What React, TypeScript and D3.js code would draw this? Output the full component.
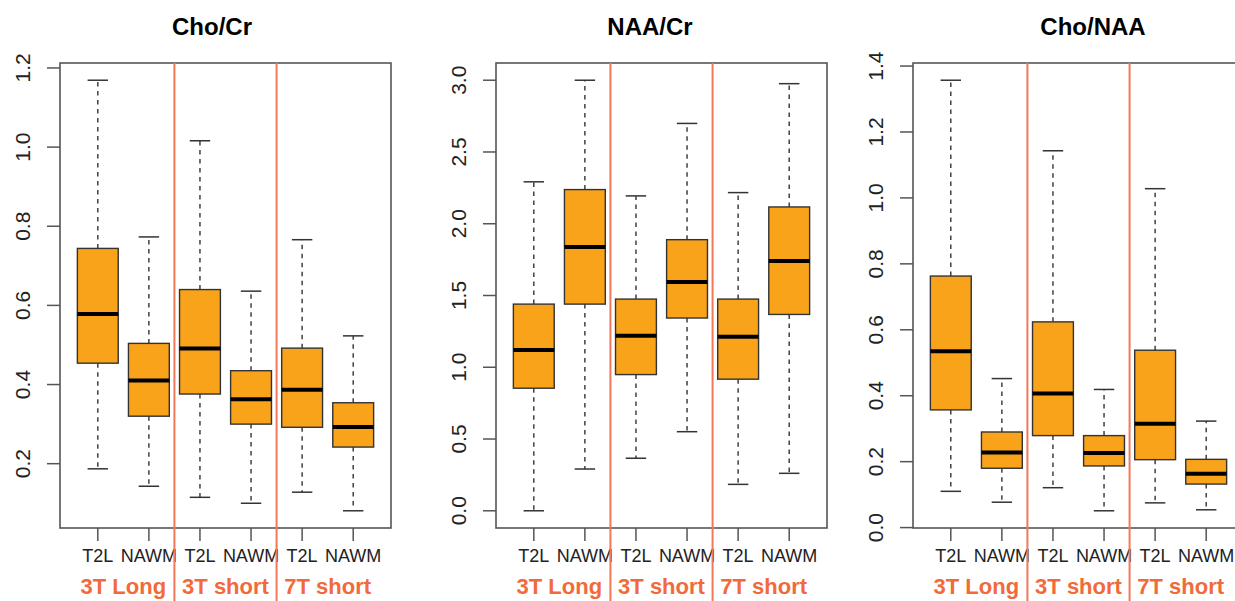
import React from "react";
import { scaleLinear, extent } from "d3";

// five-number summaries per box: [lower whisker, q1, median, q3, upper whisker]
const categories = ["T2L", "NAWM", "T2L", "NAWM", "T2L", "NAWM"];
const groups = ["3T Long", "3T short", "7T short"];
const titles = ["Cho/Cr", "NAA/Cr", "Cho/NAA"];

const choCr = [
  [0.187, 0.454, 0.578, 0.744, 1.169],
  [0.143, 0.32, 0.41, 0.504, 0.773],
  [0.115, 0.376, 0.491, 0.64, 1.016],
  [0.1, 0.3, 0.363, 0.435, 0.636],
  [0.128, 0.292, 0.387, 0.492, 0.766],
  [0.081, 0.242, 0.293, 0.354, 0.523]
];
const naaCr = [
  [0.0, 0.854, 1.121, 1.44, 2.292],
  [0.291, 1.44, 1.838, 2.238, 3.0],
  [0.366, 0.949, 1.219, 1.475, 2.194],
  [0.551, 1.343, 1.594, 1.889, 2.699],
  [0.184, 0.917, 1.212, 1.475, 2.217],
  [0.261, 1.368, 1.74, 2.117, 2.976]
];
const choNaa = [
  [0.11, 0.357, 0.535, 0.763, 1.357],
  [0.077, 0.18, 0.228, 0.29, 0.452],
  [0.121, 0.279, 0.407, 0.624, 1.143],
  [0.051, 0.187, 0.226, 0.279, 0.419],
  [0.075, 0.206, 0.315, 0.538, 1.028],
  [0.054, 0.132, 0.163, 0.207, 0.323]
];

const choCrTicks = [0.2, 0.4, 0.6, 0.8, 1.0, 1.2];
const naaCrTicks = [0.0, 0.5, 1.0, 1.5, 2.0, 2.5, 3.0];
const choNaaTicks = [0.0, 0.2, 0.4, 0.6, 0.8, 1.0, 1.2, 1.4];

const panelStats = [choCr, naaCr, choNaa];
const panelTicks = [choCrTicks, naaCrTicks, choNaaTicks];

// layout
const W = 1235;
const H = 601;
const panelLeft = [60, 496, 913];
const titleX = [212, 650, 1093];
const plotW = 331;
const top = 63;
const bottom = 528;
const font = "'Liberation Sans', Arial, Helvetica, sans-serif";
const boxFill = "#F9A31B";
const sepColor = "#F2785A";
const groupColor = "#F26A3A";

function pad(d: [number, number]): [number, number] {
  const p = (d[1] - d[0]) * 0.04;
  return [d[0] - p, d[1] + p];
}

function Panel({ idx }: { idx: number }) {
  const stats = panelStats[idx];
  const left = panelLeft[idx];
  const x = scaleLinear().domain(pad([0.5, 6.5])).range([left, left + plotW]);
  const y = scaleLinear()
    .domain(pad(extent(stats.flat()) as [number, number]))
    .range([bottom, top]);
  const bw = (x(1.4) - x(1)) ; // half box width (boxwex 0.8)
  const sw = bw / 2; // staple half width

  return (
    <g>
      <text
        x={titleX[idx]}
        y={35}
        textAnchor="middle"
        fontSize={24}
        fontWeight="bold"
        fontFamily={font}
        fill="#000"
      >
        {titles[idx]}
      </text>

      {/* boxes */}
      {stats.map((s, i) => {
        const cx = x(i + 1);
        return (
          <g key={i}>
            <line x1={cx} x2={cx} y1={y(s[3])} y2={y(s[4])} stroke="#333" strokeWidth={1.4} strokeDasharray="4.5,4.5" />
            <line x1={cx} x2={cx} y1={y(s[1])} y2={y(s[0])} stroke="#333" strokeWidth={1.4} strokeDasharray="4.5,4.5" />
            <line x1={cx - sw} x2={cx + sw} y1={y(s[4])} y2={y(s[4])} stroke="#333" strokeWidth={1.5} />
            <line x1={cx - sw} x2={cx + sw} y1={y(s[0])} y2={y(s[0])} stroke="#333" strokeWidth={1.5} />
            <rect
              x={cx - bw}
              y={y(s[3])}
              width={bw * 2}
              height={y(s[1]) - y(s[3])}
              fill={boxFill}
              stroke="#333"
              strokeWidth={1.4}
            />
            <line x1={cx - bw} x2={cx + bw} y1={y(s[2])} y2={y(s[2])} stroke="#000" strokeWidth={4} />
          </g>
        );
      })}

      {/* frame */}
      <rect x={left} y={top} width={plotW} height={bottom - top} fill="none" stroke="#555" strokeWidth={1.6} />

      {/* y axis */}
      {panelTicks[idx].map(t => (
        <g key={t}>
          <line x1={left - 13} x2={left} y1={y(t)} y2={y(t)} stroke="#555" strokeWidth={1.5} />
          <text
            transform={`translate(${left - 30.5},${y(t)}) rotate(-90)`}
            textAnchor="middle"
            fontSize={21}
            fontFamily={font}
            fill="#222"
          >
            {t.toFixed(1)}
          </text>
        </g>
      ))}

      {/* x axis */}
      {categories.map((c, i) => (
        <g key={i}>
          <line x1={x(i + 1)} x2={x(i + 1)} y1={bottom} y2={bottom + 13} stroke="#555" strokeWidth={1.5} />
          <text x={x(i + 1)} y={562} textAnchor="middle" fontSize={18} fontFamily={font} fill="#222">
            {c}
          </text>
        </g>
      ))}

      {/* group separators and labels */}
      {[2.5, 4.5].map(v => (
        <line key={v} x1={x(v)} x2={x(v)} y1={top} y2={H} stroke={sepColor} strokeWidth={2} />
      ))}
      {groups.map((g, i) => (
        <text
          key={g}
          x={x(i * 2 + 1.5)}
          y={594}
          textAnchor="middle"
          fontSize={22}
          fontWeight="bold"
          fontFamily={font}
          fill={groupColor}
        >
          {g}
        </text>
      ))}
    </g>
  );
}

export default function App() {
  return (
    <div style={{ position: "absolute", left: 0, top: 0 }}>
      <svg width={W} height={H} style={{ display: "block", background: "#fff" }}>
        {titles.map((t, i) => (
          <Panel key={t} idx={i} />
        ))}
      </svg>
    </div>
  );
}
